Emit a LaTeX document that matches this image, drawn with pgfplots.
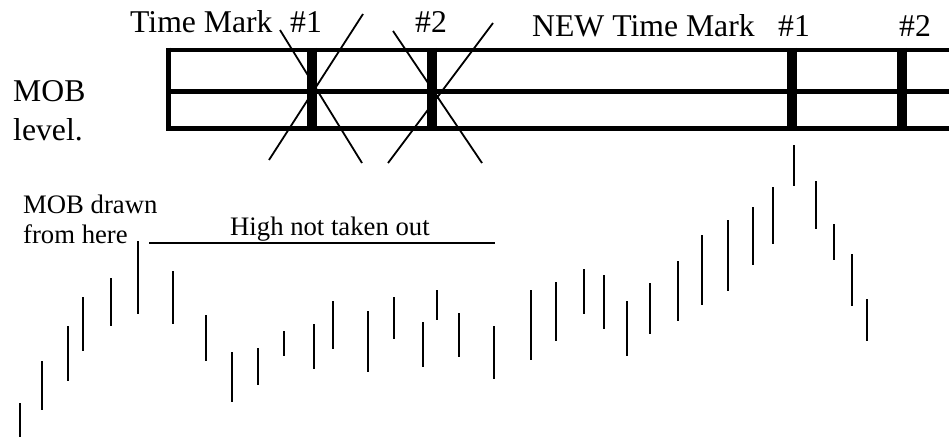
\documentclass[border=0pt]{standalone}
\usepackage{pgfplots}
\pgfplotsset{compat=1.18}
\usepackage{pgfplotstable}
\usepackage{fontspec}
\setmainfont{Liberation Serif}

% price bars: top and bottom of each bar (picture units, y grows downward),
% nan rows break the line between bars
\pgfplotstableread{
x y
20 403
20 437
20 nan
42 361
42 410
42 nan
68 326
68 381
68 nan
83 297
83 351
83 nan
111 278
111 326
111 nan
138 241
138 314
138 nan
173 271
173 324
173 nan
206 315
206 361
206 nan
232 352
232 402
232 nan
258 348
258 385
258 nan
284 331
284 356
284 nan
314 324
314 369
314 nan
333 301
333 349
333 nan
368 311
368 372
368 nan
394 297
394 339
394 nan
423 322
423 367
423 nan
437 290
437 320
437 nan
459 313
459 357
459 nan
494 326
494 379
494 nan
531 290
531 360
531 nan
556 282
556 341
556 nan
584 269
584 314
584 nan
604 275
604 329
604 nan
627 301
627 356
627 nan
650 283
650 334
650 nan
678 261
678 321
678 nan
702 235
702 305
702 nan
728 220
728 291
728 nan
753 207
753 265
753 nan
773 187
773 244
773 nan
794 145
794 186
794 nan
816 181
816 229
816 nan
834 224
834 260
834 nan
852 254
852 306
852 nan
867 299
867 341
}\bars

\newcommand{\bigtxt}{\fontsize{31.7bp}{36bp}\selectfont}
\newcommand{\smalltxt}{\fontsize{26.7bp}{30bp}\selectfont}

\begin{document}
\begin{tikzpicture}
\begin{axis}[
    scale only axis,
    width=949bp, height=437bp,
    xmin=0, xmax=949, ymin=0, ymax=437,
    y dir=reverse,
    hide axis,
    clip=false,
    unbounded coords=jump,
  ]
% bars
\addplot[black, line width=2.6bp, mark=none] table[x=x, y=y] {\bars};
% MOB box
\addplot[black, line width=4.5bp] coordinates {
  (166.5,50) (949,50) (949,nan)
  (166.5,91.5) (949,91.5) (949,nan)
  (166.5,128.5) (949,128.5) (949,nan)
  (168.5,47.75) (168.5,130.75)};
% time marks
\addplot[black, line width=10bp] coordinates {
  (312,48) (312,131) (312,nan)
  (432,48) (432,131) (432,nan)
  (792,48) (792,131) (792,nan)
  (902,48) (902,131)};
% crossed out marks
\addplot[black, line width=1.8bp] coordinates {
  (280,30) (362,163) (362,nan)
  (363,14) (269,160) (269,nan)
  (393,31) (482,163) (482,nan)
  (493,23) (388,163)};
% high not taken out
\addplot[black, line width=2.2bp] coordinates {(149,243) (495,243)};

\node[anchor=base west, inner sep=0pt] at (axis cs:130,33) {\bigtxt Time Mark};
\node[anchor=base west, inner sep=0pt] at (axis cs:290,33) {\bigtxt \#1};
\node[anchor=base west, inner sep=0pt] at (axis cs:415,33) {\bigtxt \#2};
\node[anchor=base west, inner sep=0pt] at (axis cs:532,37) {\bigtxt NEW Time Mark};
\node[anchor=base west, inner sep=0pt] at (axis cs:778,37) {\bigtxt \#1};
\node[anchor=base west, inner sep=0pt] at (axis cs:899,37) {\bigtxt \#2};
\node[anchor=base west, inner sep=0pt] at (axis cs:13,102) {\bigtxt MOB};
\node[anchor=base west, inner sep=0pt] at (axis cs:13,140) {\bigtxt level.};
\node[anchor=base west, inner sep=0pt] at (axis cs:23,213) {\smalltxt MOB drawn};
\node[anchor=base west, inner sep=0pt] at (axis cs:23,243) {\smalltxt from here};
\node[anchor=base west, inner sep=0pt] at (axis cs:230,235) {\smalltxt High not taken out};
\end{axis}
\pgfresetboundingbox
\path[use as bounding box] (current axis.south west) rectangle (current axis.north east);
\end{tikzpicture}
\end{document}
